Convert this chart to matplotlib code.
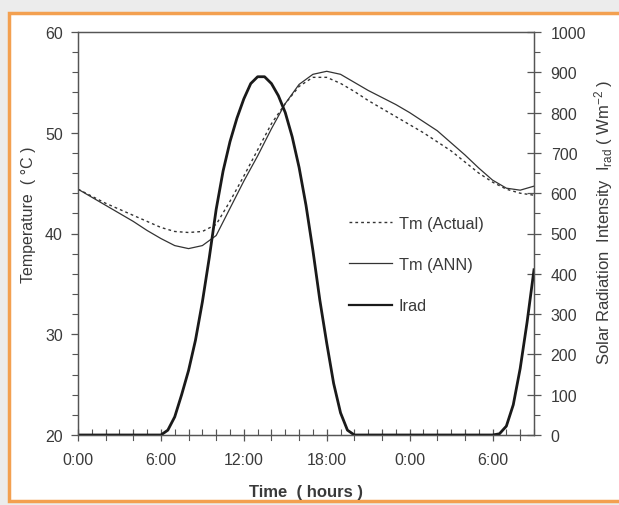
import matplotlib
matplotlib.use('Agg')
import matplotlib.pyplot as plt
from matplotlib.patches import Rectangle
from matplotlib.lines import Line2D
from matplotlib.ticker import MultipleLocator, FixedLocator

plt.rcParams['font.family'] = ['Liberation Sans', 'DejaVu Sans']
plt.rcParams['mathtext.default'] = 'regular'

# ---------------- data ----------------
hours_t = list(range(0, 34))
tm_actual = [44.4, 43.7, 43.0, 42.4, 41.8, 41.2, 40.6, 40.2, 40.1, 40.2,
             40.9, 43.2, 45.7, 48.3, 50.9, 52.9, 54.6, 55.5, 55.5, 54.9,
             54.1, 53.2, 52.4, 51.6, 50.8, 50.0, 49.1, 48.2, 47.1, 46.0,
             45.1, 44.4, 44.0, 43.8]
tm_ann = [44.4, 43.6, 42.8, 42.0, 41.2, 40.3, 39.5, 38.8, 38.5, 38.8,
          39.8, 42.5, 45.2, 47.7, 50.4, 52.9, 54.8, 55.8, 56.1, 55.8,
          55.0, 54.2, 53.5, 52.8, 52.0, 51.1, 50.2, 49.0, 47.8, 46.5,
          45.3, 44.5, 44.3, 44.7]

hours_irad = [0, 6.0, 6.5, 7.0, 7.5, 8.0, 8.5, 9.0, 9.5, 10.0, 10.5, 11.0,
              11.5, 12.0, 12.5, 13.0, 13.5, 14.0, 14.5, 15.0, 15.5, 16.0,
              16.5, 17.0, 17.5, 18.0, 18.5, 19.0, 19.5, 20.0,
              30.0, 30.5, 31.0, 31.5, 32.0, 32.5, 33.0]
irad = [0, 0, 12, 45, 100, 160, 235, 330, 440, 560, 655, 728,
        786, 834, 872, 889, 889, 872, 842, 800, 740, 664,
        570, 458, 335, 228, 128, 55, 12, 0,
        0, 3, 22, 75, 165, 280, 410]

x_tick_hours = [0, 6, 12, 18, 24, 30]
x_tick_labels = ['0:00', '6:00', '12:00', '18:00', '0:00', '6:00']
series_labels = ['Tm (Actual)', 'Tm (ANN)', 'Irad']

# ---------------- figure ----------------
W, H = 619, 506
fig = plt.figure(figsize=(W / 100, H / 100), dpi=100, facecolor='#ececec')
border = Rectangle((8.5 / W, 1 - 502 / H), 1.2, (502 - 14) / H,
                   transform=fig.transFigure, facecolor='white',
                   edgecolor='#f3a050', lw=2.5, zorder=-5)
fig.patches.append(border)

ax = fig.add_axes([78 / W, 1 - 436 / H, (534 - 78) / W, (436 - 33) / H])
ax.set_facecolor('none')
ax2 = ax.twinx()
ax2.set_facecolor('none')

txt = '#3a3a3a'
spine_c = '#555555'
tick_fs = 11.5

l1, = ax.plot(hours_t, tm_actual, color='#333333', lw=1.0,
              linestyle=(0, (2.0, 2.2)), label=series_labels[0])
l2, = ax.plot(hours_t, tm_ann, color='#333333', lw=0.9,
              label=series_labels[1])
l3, = ax2.plot(hours_irad, irad, color='#1a1a1a', lw=2.0,
               label=series_labels[2])

ax.set_xlim(0, 33)
ax.set_ylim(20, 60)
ax2.set_ylim(0, 1000)

for a in (ax, ax2):
    for s in a.spines.values():
        s.set_color(spine_c)
        s.set_linewidth(0.9)

# x ticks
ax.xaxis.set_major_locator(FixedLocator(x_tick_hours))
ax.set_xticklabels(x_tick_labels)
ax.xaxis.set_minor_locator(MultipleLocator(1))
ax.tick_params(axis='x', which='major', direction='inout', length=9,
               width=0.9, color=spine_c, pad=8, labelsize=tick_fs,
               labelcolor=txt)
ax.tick_params(axis='x', which='minor', direction='in', length=4,
               width=0.8, color=spine_c)
# taller ticks every 2 hours
for h in range(2, 33, 2):
    if h % 6 != 0:
        ax.plot([h, h], [19.55, 20.5], color=spine_c, lw=0.8,
                clip_on=False, zorder=1)

# left y ticks
ax.yaxis.set_major_locator(MultipleLocator(10))
ax.yaxis.set_minor_locator(MultipleLocator(2))
ax.tick_params(axis='y', which='major', direction='out', length=5,
               width=0.9, color=spine_c, pad=6, labelsize=tick_fs,
               labelcolor=txt)
ax.tick_params(axis='y', which='minor', direction='out', length=4,
               width=0.8, color=spine_c)

# right y ticks
ax2.yaxis.set_major_locator(MultipleLocator(100))
ax2.yaxis.set_minor_locator(MultipleLocator(50))
ax2.tick_params(axis='y', which='major', direction='inout', length=10,
                width=0.9, color=spine_c, pad=7, labelsize=tick_fs,
                labelcolor=txt)
ax2.tick_params(axis='y', which='minor', direction='out', length=4,
                width=0.8, color=spine_c)

ax.set_xlabel('Time  ( hours )', fontsize=12, fontweight='bold', color=txt)
ax.xaxis.set_label_coords(0.5, -0.122)
ax.set_ylabel('Temperature  ( °C )', fontsize=11.5, color=txt)
ax.yaxis.set_label_coords(-0.092, 0.55)
ax2.set_ylabel('Solar Radiation  Intensity  I$_{rad}$ ( Wm$^{-2}$ )',
               fontsize=12, color=txt, rotation=90)
ax2.yaxis.set_label_coords(1.127, 0.53)

handles = [
    Line2D([], [], color='#333333', lw=1.0, linestyle=(0, (2.0, 2.2))),
    Line2D([], [], color='#333333', lw=0.9),
    Line2D([], [], color='#1a1a1a', lw=1.6),
]
leg = ax2.legend(handles, series_labels, loc='upper left',
                 bbox_to_anchor=(349 / W, 1 - 217 / H),
                 bbox_transform=fig.transFigure, frameon=False,
                 fontsize=11.8, handlelength=2.6, handletextpad=0.45,
                 labelspacing=1.6, borderpad=0, borderaxespad=0)
for t in leg.get_texts():
    t.set_color(txt)

fig.savefig('out.png', dpi=100, facecolor=fig.get_facecolor())
